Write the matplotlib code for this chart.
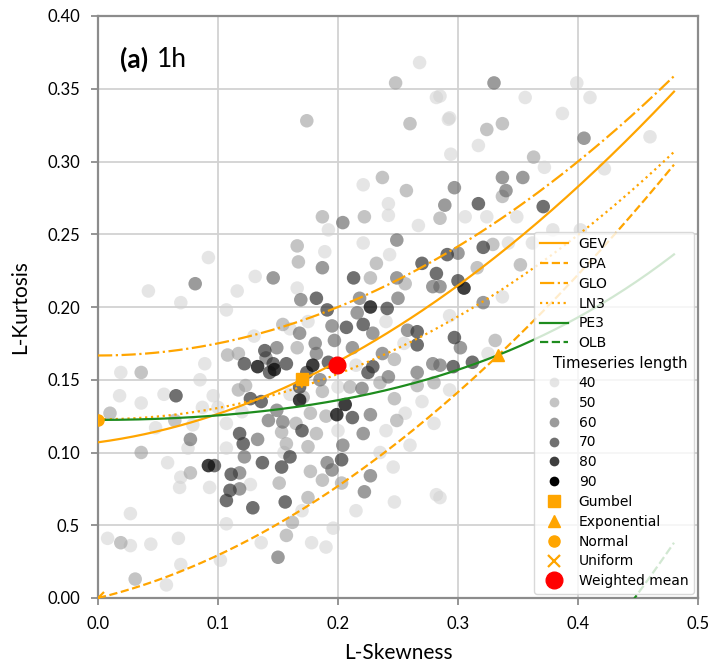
import matplotlib
matplotlib.use("Agg")
import matplotlib.pyplot as plt
from matplotlib.lines import Line2D
import numpy as np

# Polynomial approximations of tau4 as a function of tau3 (coefficients of tau3**k)
gev_coef = [0.10701, 0.11090, 0.84838, -0.06669, 0.00567, -0.04208, 0.03763]
ln3_coef = [0.12282, 0.0, 0.77518, 0.0, 0.12279, 0.0, -0.13638, 0.0, 0.11368]
pe3_coef = [0.12240, 0.0, 0.30115, 0.0, 0.95812, 0.0, -0.57488, 0.0, 0.19383]
tau3_max = 0.48

# Two-parameter distributions (tau3, tau4)
gumbel = (0.1699, 0.1504)
exponential = (0.3333, 0.1667)
normal = (0.0, 0.1226)
uniform = (0.0, 0.0)
weighted_mean = (0.199, 0.160)

# Sample L-moment ratios (L-skewness, L-kurtosis) grouped by timeseries length
pts_40 = [
    (0.092, 0.234), (0.042, 0.211), (0.069, 0.203), (0.116, 0.211), (0.107, 0.198),
    (0.131, 0.221), (0.268, 0.368), (0.282, 0.344), (0.221, 0.284), (0.242, 0.263),
    (0.267, 0.256), (0.221, 0.244), (0.189, 0.238), (0.243, 0.236), (0.166, 0.213),
    (0.192, 0.253), (0.242, 0.271), (0.399, 0.354), (0.356, 0.344), (0.387, 0.333),
    (0.292, 0.329), (0.317, 0.311), (0.294, 0.305), (0.372, 0.296), (0.422, 0.295),
    (0.306, 0.262), (0.324, 0.262), (0.349, 0.262), (0.342, 0.244), (0.362, 0.244),
    (0.293, 0.194), (0.337, 0.207), (0.460, 0.317), (0.410, 0.344), (0.285, 0.345),
    (0.293, 0.330), (0.379, 0.253), (0.402, 0.253), (0.019, 0.155), (0.089, 0.161),
    (0.018, 0.139), (0.036, 0.134), (0.096, 0.139), (0.048, 0.117), (0.079, 0.119),
    (0.087, 0.131), (0.100, 0.131), (0.107, 0.120), (0.107, 0.103), (0.058, 0.093),
    (0.075, 0.103), (0.069, 0.083), (0.068, 0.076), (0.093, 0.076), (0.127, 0.078),
    (0.027, 0.058), (0.008, 0.041), (0.027, 0.036), (0.044, 0.037), (0.067, 0.041),
    (0.069, 0.023), (0.057, 0.009), (0.107, 0.051), (0.102, 0.026), (0.136, 0.038),
    (0.256, 0.127), (0.246, 0.090), (0.247, 0.066), (0.282, 0.071), (0.196, 0.048),
    (0.178, 0.038), (0.325, 0.168), (0.293, 0.143), (0.285, 0.069), (0.160, 0.185),
    (0.175, 0.190), (0.240, 0.190), (0.255, 0.175), (0.215, 0.160), (0.160, 0.140),
    (0.200, 0.145), (0.240, 0.115), (0.260, 0.105), (0.200, 0.115), (0.155, 0.100),
    (0.235, 0.100), (0.270, 0.135), (0.280, 0.120), (0.170, 0.060), (0.215, 0.060),
    (0.190, 0.035), (0.130, 0.180), (0.120, 0.128), (0.085, 0.150), (0.055, 0.140),
]
pts_50 = [
    (0.248, 0.354), (0.174, 0.328), (0.260, 0.326), (0.237, 0.289), (0.187, 0.262),
    (0.222, 0.262), (0.166, 0.242), (0.167, 0.231), (0.232, 0.230), (0.227, 0.220),
    (0.256, 0.216), (0.257, 0.280), (0.324, 0.322), (0.337, 0.326), (0.363, 0.303),
    (0.337, 0.276), (0.285, 0.261), (0.329, 0.243), (0.316, 0.227), (0.352, 0.229),
    (0.036, 0.155), (0.108, 0.167), (0.117, 0.168), (0.010, 0.127), (0.064, 0.122),
    (0.117, 0.143), (0.123, 0.146), (0.036, 0.100), (0.077, 0.086), (0.019, 0.038),
    (0.031, 0.013), (0.154, 0.188), (0.166, 0.172), (0.247, 0.164), (0.187, 0.142),
    (0.247, 0.137), (0.249, 0.122), (0.182, 0.113), (0.157, 0.106), (0.175, 0.104),
    (0.177, 0.087), (0.187, 0.081), (0.203, 0.079), (0.151, 0.079), (0.175, 0.069),
    (0.162, 0.052), (0.157, 0.043), (0.171, 0.138), (0.153, 0.114), (0.177, 0.127),
    (0.266, 0.146), (0.280, 0.148), (0.235, 0.148), (0.331, 0.177), (0.210, 0.145),
    (0.190, 0.125), (0.165, 0.120),
]
pts_60 = [
    (0.081, 0.216), (0.204, 0.258), (0.249, 0.246), (0.187, 0.227), (0.146, 0.220),
    (0.249, 0.220), (0.169, 0.205), (0.218, 0.206), (0.250, 0.206), (0.216, 0.196),
    (0.279, 0.214), (0.330, 0.354), (0.405, 0.316), (0.337, 0.289), (0.354, 0.289),
    (0.340, 0.280), (0.297, 0.282), (0.289, 0.270), (0.300, 0.237), (0.285, 0.214),
    (0.321, 0.203), (0.140, 0.165), (0.142, 0.122), (0.122, 0.097), (0.133, 0.109),
    (0.077, 0.109), (0.118, 0.086), (0.118, 0.075), (0.195, 0.187), (0.168, 0.182),
    (0.229, 0.182), (0.181, 0.175), (0.197, 0.177), (0.212, 0.172), (0.149, 0.172),
    (0.182, 0.168), (0.185, 0.150), (0.237, 0.168), (0.242, 0.152), (0.258, 0.184),
    (0.266, 0.155), (0.279, 0.161), (0.220, 0.144), (0.227, 0.126), (0.221, 0.113),
    (0.154, 0.121), (0.204, 0.105), (0.191, 0.093), (0.195, 0.088), (0.227, 0.084),
    (0.222, 0.073), (0.150, 0.028), (0.149, 0.129), (0.302, 0.172), (0.285, 0.160),
]
pts_70 = [
    (0.270, 0.230), (0.213, 0.220), (0.182, 0.206), (0.241, 0.199), (0.191, 0.198),
    (0.282, 0.223), (0.317, 0.271), (0.371, 0.269), (0.321, 0.241), (0.291, 0.236),
    (0.300, 0.218), (0.122, 0.161), (0.139, 0.170), (0.065, 0.139), (0.127, 0.137),
    (0.136, 0.135), (0.118, 0.113), (0.121, 0.106), (0.137, 0.093), (0.097, 0.091),
    (0.111, 0.085), (0.110, 0.074), (0.107, 0.067), (0.129, 0.062), (0.207, 0.186),
    (0.221, 0.188), (0.146, 0.161), (0.157, 0.161), (0.192, 0.162), (0.143, 0.155),
    (0.174, 0.155), (0.225, 0.155), (0.229, 0.159), (0.266, 0.183), (0.266, 0.174),
    (0.168, 0.145), (0.212, 0.124), (0.170, 0.115), (0.160, 0.097), (0.153, 0.090),
    (0.203, 0.095), (0.156, 0.066), (0.297, 0.179), (0.312, 0.162), (0.296, 0.159),
]
pts_80 = [
    (0.227, 0.200), (0.305, 0.213), (0.133, 0.159), (0.092, 0.091), (0.147, 0.157),
    (0.179, 0.160), (0.168, 0.136), (0.206, 0.133), (0.199, 0.126),
]
pts_90 = []

lengths = [40, 50, 60, 70, 80, 90]
length_points = [pts_40, pts_50, pts_60, pts_70, pts_80, pts_90]
length_colors = [
    (0.82, 0.82, 0.82, 0.55),
    (0.62, 0.62, 0.62, 0.60),
    (0.40, 0.40, 0.40, 0.65),
    (0.20, 0.20, 0.20, 0.70),
    (0.05, 0.05, 0.05, 0.80),
    (0.00, 0.00, 0.00, 1.00),
]

orange = "#ffa500"
green = "#1e8c1e"
tick_font = "Lato"


def poly_curve(coef, tau3):
    return np.polyval(coef[::-1], tau3)


fig = plt.figure(figsize=(7.11, 6.66), dpi=100)
ax = fig.add_axes([98 / 711, 68 / 666, 600 / 711, 582 / 666])

for pts, color in zip(length_points, length_colors):
    if not pts:
        continue
    xs, ys = zip(*pts)
    ax.scatter(xs, ys, s=95, color=color, edgecolors="none", zorder=2)

t3 = np.linspace(0.0, tau3_max, 200)
ax.plot(t3, poly_curve(gev_coef, t3), color=orange, lw=1.6, ls="-", zorder=3)
ax.plot(t3, t3 * (1 + 5 * t3) / (5 + t3), color=orange, lw=1.6, ls="--", zorder=3)
ax.plot(t3, (1 + 5 * t3 ** 2) / 6, color=orange, lw=1.6, ls="-.", zorder=3)
ax.plot(t3, poly_curve(ln3_coef, t3), color=orange, lw=1.6, ls=":", zorder=3)
ax.plot(t3, poly_curve(pe3_coef, t3), color=green, lw=1.6, ls="-", zorder=3)
ax.plot(t3, (5 * t3 ** 2 - 1) / 4, color=green, lw=1.6, ls="--", zorder=3)

ax.plot(*gumbel, marker="s", ms=8, color=orange, ls="none", zorder=4)
ax.plot(*exponential, marker="^", ms=8, color=orange, ls="none", zorder=4)
ax.plot(*normal, marker="o", ms=8, color=orange, ls="none", zorder=4)
ax.plot(*uniform, marker="x", ms=8, mew=1.6, color=orange, ls="none", zorder=4)
ax.plot(*weighted_mean, marker="o", ms=12, color="red", ls="none", zorder=4)

ax.set_xlim(0, 0.5)
ax.set_ylim(0, 0.4)
ax.set_xticks([0.0, 0.1, 0.2, 0.3, 0.4, 0.5])
ax.set_xticklabels(["0.0", "0.1", "0.2", "0.3", "0.4", "0.5"], family=tick_font, fontsize=12)
ax.set_yticks([0.0, 0.05, 0.10, 0.15, 0.20, 0.25, 0.30, 0.35, 0.40])
ax.set_yticklabels(["0.00", "0.5", "0.10", "0.15", "0.20", "0.25", "0.30", "0.35", "0.40"],
                   family=tick_font, fontsize=12)
ax.tick_params(length=5, width=1.3, color="#8c8c8c", pad=8)
ax.grid(color="#d2d2d2", lw=1.3)
ax.set_axisbelow(True)
for spine in ax.spines.values():
    spine.set_color("#8c8c8c")
    spine.set_linewidth(1.6)

ax.set_xlabel("L-Skewness", family=tick_font, fontsize=15, labelpad=8)
ax.set_ylabel("L-Kurtosis", family=tick_font, fontsize=15, labelpad=12)

# Panel tag: bold letter, regular duration right after it
tag = ax.text(0.036, 0.925, "(a)", transform=ax.transAxes, family=tick_font, fontsize=19,
              fontweight="bold", va="center", ha="left")

# Legend: curves, a sub-heading row, sample lengths, then reference points
handles = [
    Line2D([], [], color=orange, lw=1.6, ls="-"),
    Line2D([], [], color=orange, lw=1.6, ls="--"),
    Line2D([], [], color=orange, lw=1.6, ls="-."),
    Line2D([], [], color=orange, lw=1.6, ls=":"),
    Line2D([], [], color=green, lw=1.6, ls="-"),
    Line2D([], [], color=green, lw=1.6, ls="--"),
    Line2D([], [], ls="none"),
]
labels = ["GEV", "GPA", "GLO", "LN3", "PE3", "OLB", "Tg"]
for length, color in zip(lengths, length_colors):
    handles.append(Line2D([], [], ls="none", marker="o", ms=7, color=color, mec="none"))
    labels.append(str(length))
handles += [
    Line2D([], [], ls="none", marker="s", ms=8, color=orange),
    Line2D([], [], ls="none", marker="^", ms=8, color=orange),
    Line2D([], [], ls="none", marker="o", ms=8, color=orange),
    Line2D([], [], ls="none", marker="x", ms=8, mew=1.6, color=orange),
    Line2D([], [], ls="none", marker="o", ms=12, color="red"),
]
labels += ["Gumbel", "Exponential", "Normal", "Uniform", "Weighted mean"]

leg = ax.legend(handles, labels, loc="lower right", fontsize=10, labelspacing=0.42,
                handlelength=2.0, handletextpad=0.8, borderpad=0.4, borderaxespad=0.3,
                framealpha=0.8, edgecolor="#d0d0d0", numpoints=1)
leg.set_zorder(5)

# The sub-heading row keeps its height but is written further left, a bit larger
placeholder = leg.get_texts()[6]
fig.canvas.draw()
hb = placeholder.get_window_extent()
lb = leg.get_window_extent()
placeholder.set_visible(False)
W, H = fig.bbox.width, fig.bbox.height
fig.text((lb.x0 + 19) / W, (hb.y0 + hb.y1) / 2 / H, "Timeseries length",
         fontsize=10.8, va="center", ha="left", zorder=6)

tb = tag.get_window_extent()
fig.text((tb.x1 + 9) / W, (tb.y0 + tb.y1) / 2 / H, "1h", family=tick_font,
         fontsize=19, va="center", ha="left")

fig.savefig("out.png", dpi=100)
